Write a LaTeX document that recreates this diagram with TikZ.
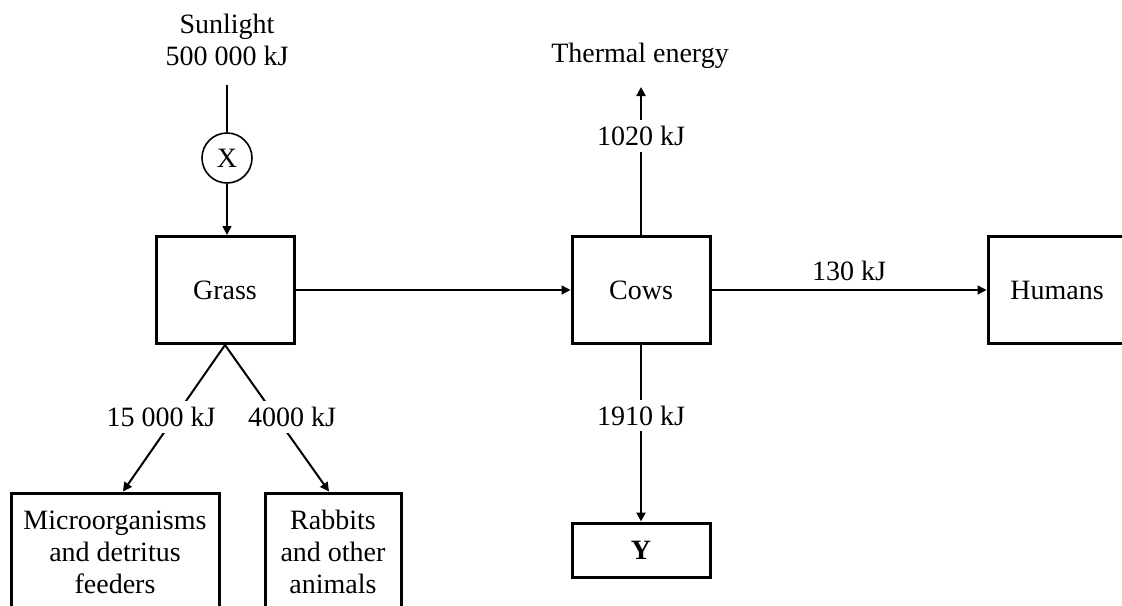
\documentclass[tikz,border=0pt]{standalone}
\usepackage{fontspec}
\setmainfont{Liberation Serif}
\usepackage{tikz}
\usetikzlibrary{arrows.meta}

\begin{document}
\begin{tikzpicture}[
    x=0.5pt, y=-0.5pt,
    every node/.style={align=center, font=\fontsize{14}{16}\selectfont},
    organism/.style={rectangle, draw, line width=1.5pt, inner sep=2pt,
                     minimum width=69pt, minimum height=53.5pt},
    flow/.style={draw, line width=0.8pt, -{Triangle[length=4.5pt, width=4.5pt]}},
    heavyflow/.style={flow, line width=1.2pt},
    amount/.style={fill=white, inner xsep=1pt, inner ysep=3pt},
]
\clip (0,0) rectangle (1122,605);

\node (sun) at (227,40) {Sunlight\\500 000 kJ};
\coordinate (suntop) at (227,85);
\node [circle, draw, line width=0.8pt, minimum size=25pt, inner sep=0pt] (X) at (227,158) {X};

\node [organism] (grass)  at (225,290) {Grass};
\node [organism] (cows)   at (641,290) {Cows};
\node [organism] (humans) at (1057,290) {Humans};
\node [organism, minimum height=27pt] (Y) at (641,550) {\textbf{Y}};
\node [organism, minimum width=104pt, minimum height=59pt] (micro) at (115,552)
      {Microorganisms\\and detritus\\feeders};
\node [organism, minimum width=68pt, minimum height=59pt] (rabbits) at (333,552)
      {Rabbits\\and other\\animals};

\node (heat) at (640,56) {Thermal energy};
\coordinate (heatend) at (641,87);

% energy flows
\draw [line width=0.8pt] (suntop) -- (X.north);
\draw [flow] (X.south) -- (X.south |- grass.north);
\draw [flow] (grass.east) -- (cows.west);
\draw [flow] (cows.east) -- node[above, yshift=1pt] {130 kJ} (humans.west);
\draw [heavyflow] (cows.north) -- node[amount, pos=0.67] {1020 kJ} (heatend);
\draw [heavyflow] (cows.south) -- node[amount, pos=0.40] {1910 kJ} (Y.north);
\draw [flow, line width=1pt] (grass.south) -- node[amount, pos=0.49, xshift=-7pt] {15 000 kJ}
      ([xshift=4pt]micro.north);
\draw [flow, line width=1pt] (grass.south) -- node[amount, pos=0.49, xshift=8pt] {4000 kJ}
      ([xshift=-2pt]rabbits.north);

\end{tikzpicture}
\end{document}
